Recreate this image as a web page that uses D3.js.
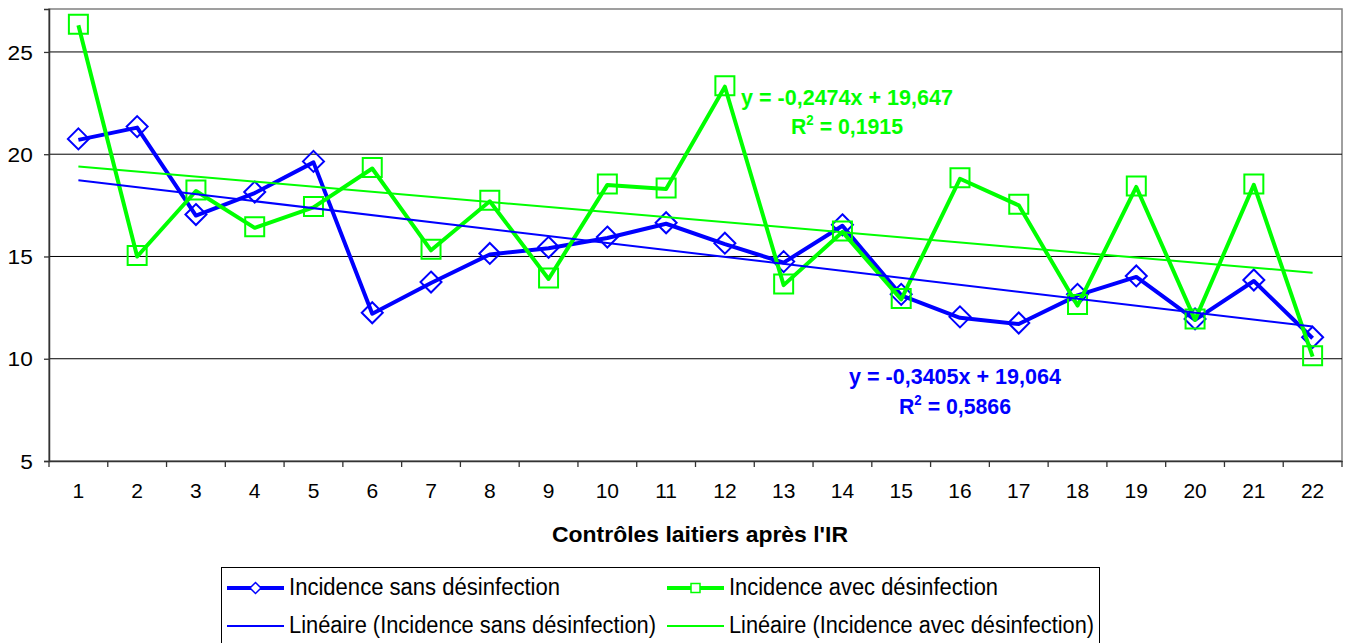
<!DOCTYPE html>
<html>
<head>
<meta charset="utf-8">
<script src="https://cdn.jsdelivr.net/npm/d3@7"></script>
<style>
  html, body { margin: 0; padding: 0; background: #fff; }
  svg { display: block; font-family: "Liberation Sans", Arial, sans-serif; }
</style>
</head>
<body>
<svg id="chart" width="1346" height="643"></svg>
<script>
// ---- Data ----
const categories = ["1","2","3","4","5","6","7","8","9","10","11","12","13","14","15","16","17","18","19","20","21","22"];
const sansDesinfection = [20.7, 21.3, 17.0, 18.1, 19.6, 12.2, 13.7, 15.1, 15.4, 15.9, 16.6, 15.6, 14.7, 16.5, 13.1, 12.0, 11.7, 13.1, 14.0, 11.9, 13.8, 11.0];
const avecDesinfection = [26.3, 15.0, 18.2, 16.4, 17.4, 19.3, 15.3, 17.7, 13.9, 18.5, 18.3, 23.3, 13.6, 16.2, 12.9, 18.8, 17.5, 12.6, 18.4, 11.9, 18.5, 10.1];
const yTicks = [5, 10, 15, 20, 25];
// trendline coefficients as printed on the chart: [slope, intercept, R2]
const trendSans = [-0.3405, 19.064, 0.5866];
const trendAvec = [-0.2474, 19.647, 0.1915];
const seriesNames = ["Incidence sans désinfection", "Incidence avec désinfection",
  "Linéaire (Incidence sans désinfection)", "Linéaire (Incidence avec désinfection)"];
const xTitle = "Contrôles laitiers après l'IR";

const BLUE = "#0000ff", GREEN = "#00ff00";

const svg = d3.select("#chart");
const plot = { left: 49, right: 1342, top: 9, bottom: 461 };

const x = d3.scaleBand().domain(categories).range([plot.left, plot.right]).padding(0);
const xc = d => x(d) + x.bandwidth() / 2;
const y = d3.scaleLinear().domain([5, 27.1]).range([plot.bottom, plot.top]);

// plot area border
svg.append("rect")
  .attr("x", plot.left).attr("y", plot.top)
  .attr("width", plot.right - plot.left).attr("height", plot.bottom - plot.top)
  .attr("fill", "#fff").attr("stroke", "#808080").attr("stroke-width", 1.5);

// gridlines
svg.append("g").selectAll("line").data(yTicks.filter(t => t > 5)).join("line")
  .attr("x1", plot.left).attr("x2", plot.right)
  .attr("y1", d => y(d)).attr("y2", d => y(d))
  .attr("stroke", "#000").attr("stroke-width", 1);

// y axis
const yAxis = d3.axisLeft(y).tickValues(yTicks).tickSize(5).tickPadding(10).tickFormat(d3.format("d"));
const gy = svg.append("g").attr("transform", `translate(${plot.left},0)`).call(yAxis);
gy.select(".domain").attr("stroke", "#333").attr("stroke-width", 1.5);
gy.selectAll(".tick line").attr("stroke", "#333").attr("stroke-width", 1.3);
gy.selectAll(".tick text").attr("font-size", 21).attr("fill", "#000")
  .attr("font-family", "'Liberation Sans', Arial, sans-serif")
  .attr("transform", "scale(1.08,1)").attr("dy", "0.34em");

// x axis
const xAxis = d3.axisBottom(x).tickSize(0).tickPadding(22);
const gx = svg.append("g").attr("transform", `translate(0,${plot.bottom})`).call(xAxis);
gx.select(".domain").attr("stroke", "#333").attr("stroke-width", 1.5);
gx.selectAll(".tick text").attr("font-size", 21).attr("fill", "#000")
  .attr("font-family", "'Liberation Sans', Arial, sans-serif");
// tick marks at category boundaries
const bounds = categories.map(c => x(c)).concat([plot.right]);
svg.append("g").selectAll("line").data(bounds).join("line")
  .attr("x1", d => d).attr("x2", d => d)
  .attr("y1", plot.bottom).attr("y2", plot.bottom + 6)
  .attr("stroke", "#333").attr("stroke-width", 1.3);

// x title
svg.append("text").attr("x", 700).attr("y", 541.5)
  .attr("text-anchor", "middle").attr("font-size", 22).attr("font-weight", "bold")
  .attr("textLength", 296).attr("lengthAdjust", "spacingAndGlyphs")
  .text(xTitle);

// series
const line = d3.line().x((d, i) => xc(categories[i])).y(d => y(d));
const diamond = s => `M0,${-s}L${s},0L0,${s}L${-s},0Z`;

function drawSeries(values, color, marker) {
  const g = svg.append("g");
  g.append("path").datum(values).attr("d", line)
    .attr("fill", "none").attr("stroke", color).attr("stroke-width", 4)
    .attr("stroke-linejoin", "round");
  const m = g.selectAll(".m").data(values).join("path")
    .attr("transform", (d, i) => `translate(${xc(categories[i])},${y(d) - 1})`)
    .attr("fill", "none").attr("stroke", color).attr("stroke-width", 2);
  if (marker === "diamond") m.attr("d", diamond(10.5));
  else m.attr("d", "M-9.5,-9.5H9.5V9.5H-9.5Z");
}
drawSeries(sansDesinfection, BLUE, "diamond");
drawSeries(avecDesinfection, GREEN, "square");

// trendlines
function drawTrend(coef, color) {
  const xs = [1, categories.length];
  svg.append("line")
    .attr("x1", xc(categories[0])).attr("x2", xc(categories[categories.length - 1]))
    .attr("y1", y(coef[0] * xs[0] + coef[1])).attr("y2", y(coef[0] * xs[1] + coef[1]))
    .attr("stroke", color).attr("stroke-width", 2);
}
drawTrend(trendSans, BLUE);
drawTrend(trendAvec, GREEN);

// equation labels
const fmt = v => String(v).replace(".", ",");
function eqLabel(coef, color, cx, y1, y2) {
  const sign = coef[0] < 0 ? "-" : "";
  svg.append("text").attr("x", cx).attr("y", y1).attr("text-anchor", "middle")
    .attr("font-size", 22.5).attr("font-weight", "bold").attr("fill", color)
    .attr("textLength", 212).attr("lengthAdjust", "spacingAndGlyphs")
    .text(`y = ${sign}${fmt(Math.abs(coef[0]))}x + ${fmt(coef[1])}`);
  const t = svg.append("text").attr("x", cx).attr("y", y2).attr("text-anchor", "middle")
    .attr("font-size", 22.5).attr("font-weight", "bold").attr("fill", color)
    .attr("textLength", 112).attr("lengthAdjust", "spacingAndGlyphs");
  t.append("tspan").text("R");
  t.append("tspan").attr("font-size", 14).attr("dy", -9).text("2");
  t.append("tspan").attr("dy", 9).text(` = ${fmt(coef[2])}`);
}
eqLabel(trendAvec, GREEN, 847, 105, 133.5);
eqLabel(trendSans, BLUE, 955, 383.5, 413.5);

// legend
const lg = svg.append("g");
lg.append("rect").attr("x", 221.5).attr("y", 567.5).attr("width", 878).attr("height", 90)
  .attr("fill", "#fff").attr("stroke", "#000").attr("stroke-width", 1);
const legendItems = [
  { name: seriesNames[0], color: BLUE, w: 4, marker: "diamond", x: 227, y: 588, tl: 271 },
  { name: seriesNames[1], color: GREEN, w: 4, marker: "square", x: 667, y: 588, tl: 269 },
  { name: seriesNames[2], color: BLUE, w: 2, marker: null, x: 227, y: 626, tl: 367 },
  { name: seriesNames[3], color: GREEN, w: 2, marker: null, x: 667, y: 626, tl: 365 }
];
legendItems.forEach(it => {
  lg.append("line").attr("x1", it.x).attr("x2", it.x + 57)
    .attr("y1", it.y).attr("y2", it.y).attr("stroke", it.color).attr("stroke-width", it.w);
  if (it.marker === "diamond") {
    lg.append("path").attr("d", diamond(5.5))
      .attr("transform", `translate(${it.x + 28.5},${it.y})`)
      .attr("fill", "#fff").attr("stroke", it.color).attr("stroke-width", 1.5);
  } else if (it.marker === "square") {
    lg.append("path").attr("d", "M-4.5,-4.5H4.5V4.5H-4.5Z")
      .attr("transform", `translate(${it.x + 28.5},${it.y})`)
      .attr("fill", "#fff").attr("stroke", it.color).attr("stroke-width", 1.5);
  }
  lg.append("text").attr("x", it.x + 62).attr("y", it.y + 6.5)
    .attr("font-size", 23).attr("fill", "#000")
    .attr("textLength", it.tl).attr("lengthAdjust", "spacingAndGlyphs").text(it.name);
});
</script>
</body>
</html>
